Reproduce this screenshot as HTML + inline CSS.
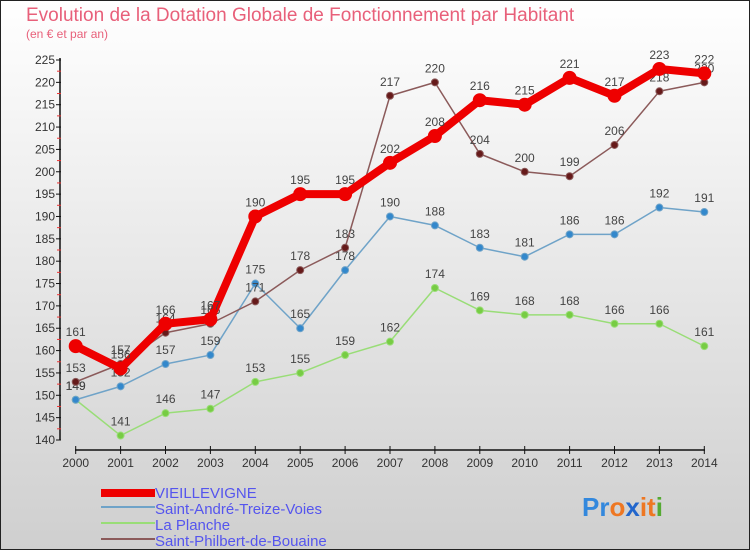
<!DOCTYPE html>
<html><head><meta charset="utf-8"><style>
body{margin:0}
#c{width:750px;height:550px;position:relative;overflow:hidden;font-family:"Liberation Sans",sans-serif}
</style></head><body>
<div id="c">
<svg width="750" height="550" xmlns="http://www.w3.org/2000/svg">
<defs><linearGradient id="bg" x1="0" y1="0" x2="0" y2="1"><stop offset="0" stop-color="#ffffff"/><stop offset="1" stop-color="#cfcfcf"/></linearGradient></defs>
<rect x="0.5" y="0.5" width="749" height="549" fill="url(#bg)" stroke="#222"/>
<text x="26" y="21" font-size="19" fill="#e8607a">Evolution de la Dotation Globale de Fonctionnement par Habitant</text>
<text x="26" y="38" font-size="12" fill="#e8607a">(en € et par an)</text>
<g id="axes"></g>
<g id="series"></g>
<g id="legend" font-size="15" fill="#5555ee">
<rect x="101" y="489" width="54" height="8" fill="#ee0000"/>
<text x="155" y="498" fill="#5555ee">VIEILLEVIGNE</text>
<rect x="101" y="506" width="54" height="2" fill="#6fa3c8"/>
<text x="155" y="514" fill="#5555ee">Saint-André-Treize-Voies</text>
<rect x="101" y="522" width="54" height="2" fill="#99dd77"/>
<text x="155" y="530" fill="#5555ee">La Planche</text>
<rect x="101" y="538" width="54" height="2" fill="#8b5a5a"/>
<text x="155" y="546" fill="#5555ee">Saint-Philbert-de-Bouaine</text>
</g>
<text x="582" y="516" font-size="26" font-weight="bold"><tspan fill="#3388dd">Pr</tspan><tspan fill="#ee7722">o</tspan><tspan fill="#2266cc">x</tspan><tspan fill="#ee7722">it</tspan><tspan fill="#55aa33">i</tspan></text>
</svg>
</div>
<script>
const years=[2000,2001,2002,2003,2004,2005,2006,2007,2008,2009,2010,2011,2012,2013,2014];
const vieillevigne=[161,156,166,167,190,195,195,202,208,216,215,221,217,223,222];
const saintAndre=[149,152,157,159,175,165,178,190,188,183,181,186,186,192,191];
const laPlanche=[149,141,146,147,153,155,159,162,174,169,168,168,166,166,161];
const saintPhilbert=[153,157,164,166,171,178,183,217,220,204,200,199,206,218,220];
const yTicks=[140,145,150,155,160,165,170,175,180,185,190,195,200,205,210,215,220,225];
const NS="http://www.w3.org/2000/svg";
const xs=i=>75.7+i*44.9;
const ys=v=>440-(v-140)*380/85;
function mk(t,a,p){const e=document.createElementNS(NS,t);for(const k in a)e.setAttribute(k,a[k]);p.appendChild(e);return e;}
const ax=document.getElementById('axes');
let l=mk('line',{x1:60,y1:58,x2:60,y2:440,stroke:'#111','stroke-width':1.5},ax);


l=mk('line',{x1:75,y1:450,x2:705,y2:450,stroke:'#111','stroke-width':1.5},ax);


yTicks.forEach((v,i)=>{
 mk('line',{x1:56,x2:61,y1:ys(v),y2:ys(v),stroke:'#111'},ax);
 if(i<yTicks.length-1)mk('line',{x1:57,x2:61,y1:ys(v+2.5),y2:ys(v+2.5),stroke:'#e33'},ax);
 const t=mk('text',{x:55,y:ys(v)+4,'text-anchor':'end','font-size':12,fill:'#333'},ax);
 t.textContent=v;
 
 
});
years.forEach((y,i)=>{
 mk('line',{x1:xs(i),x2:xs(i),y1:446,y2:454,stroke:'#111'},ax);
 const t=mk('text',{x:xs(i),y:467,'text-anchor':'middle','font-size':12,fill:'#333'},ax);
 t.textContent=y;
 
 
});
const sg=document.getElementById('series');
function series(data,color,dot,w,r,name){
 const g=mk('g',{},sg);
 
 
 const p=mk('polyline',{points:data.map((v,i)=>xs(i)+','+ys(v)).join(' '),fill:'none',stroke:color,'stroke-width':w,'stroke-linejoin':'round'},g);
 
 
 data.forEach((v,i)=>{
  const c=mk('circle',{cx:xs(i),cy:ys(v),r:r,fill:dot,stroke:color,'stroke-width':1},g);
  
  
  const t=mk('text',{x:xs(i),y:ys(v)-10,'text-anchor':'middle','font-size':12,fill:'#444'},g);
  t.textContent=v;
  
  
 });
}
series(laPlanche,'#99dd77','#77cc44',1.5,3.5,'la-planche');
series(saintAndre,'#6fa3c8','#3388cc',1.5,3.5,'saint-andre');
series(saintPhilbert,'#8b5a5a','#661a1a',1.5,3.5,'saint-philbert');
series(vieillevigne,'#ee0000','#ee0000',8,6.5,'vieillevigne');
</script>
</body></html>
